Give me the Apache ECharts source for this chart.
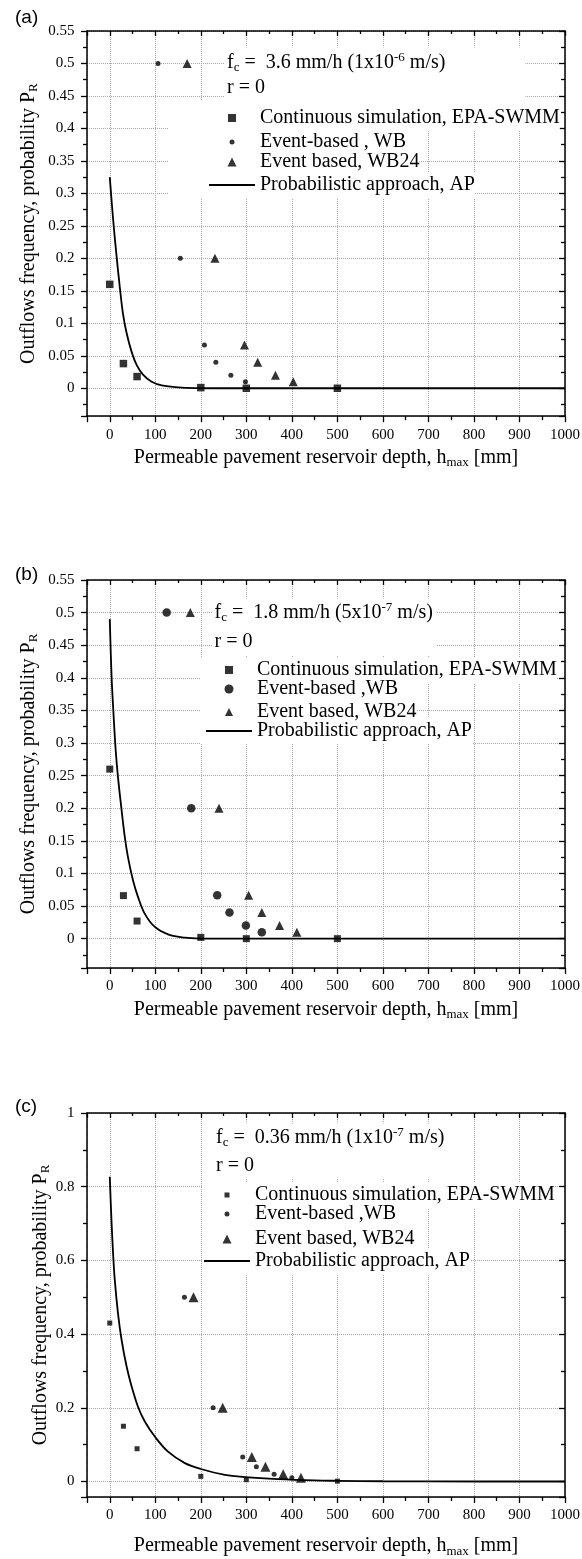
<!DOCTYPE html>
<html>
<head>
<meta charset="utf-8">
<script src="https://cdn.jsdelivr.net/npm/echarts@6/dist/echarts.min.js"></script>
<style>html,body{margin:0;padding:0;background:#fff}#c{width:582px;height:1559px}</style>
</head>
<body>
<div id="c"></div>
<script>
// ---------------- data ----------------
const panelLabels = ['(a)', '(b)', '(c)'];
const fcValues = ['3.6', '1.8', '0.36'];
const fcSI = [['1x10', '-6'], ['5x10', '-7'], ['1x10', '-7']];
const nameSWMM = 'Continuous simulation, EPA-SWMM';
const nameWB = ['Event-based , WB', 'Event-based ,WB', 'Event-based ,WB'];
const nameWB24 = 'Event based, WB24';
const nameAP = 'Probabilistic approach, AP';

// panel (a)
const A_SWMM = [[0,0.16],[30,0.038],[60,0.018],[200,0.001],[300,0],[500,0]];
const A_WB   = [[106,0.5],[155,0.2],[208,0.0667],[233,0.04],[266,0.02],[298,0.01]];
const A_WB24 = [[170,0.5],[231,0.2],[296,0.0667],[325,0.04],[364,0.02],[403,0.01]];
const A_AP   = [[0,0.325],[7.5,0.259],[15,0.203],[22,0.156],[29,0.115],[37,0.085],[48,0.056],[59,0.036],[73,0.021],[92,0.010],[114,0.0046],[150,0.0015],[194,0.0003],[250,0],[1000,0]];

// panel (b)
const B_SWMM = [[0,0.26],[30,0.066],[60,0.027],[200,0.002],[300,0],[500,0]];
const B_WB   = [[125,0.5],[179,0.2],[236,0.0667],[263,0.04],[299,0.02],[334,0.01]];
const B_WB24 = [[177,0.5],[240,0.2],[305,0.0667],[334,0.04],[373,0.02],[411,0.01]];
const B_AP   = [[0,0.49],[4,0.402],[9,0.335],[13,0.289],[18,0.248],[26,0.197],[33,0.156],[40,0.125],[51,0.0895],[62,0.064],[77,0.038],[99,0.018],[128,0.0066],[165,0.0015],[201,0.0002],[250,0],[1000,0]];

// panel (c)
const C_SWMM = [[0,0.43],[30,0.15],[60,0.089],[200,0.014],[300,0.005],[500,0.001]];
const C_WB   = [[164,0.5],[227,0.2],[292,0.0667],[322,0.04],[361,0.02],[400,0.01]];
const C_WB24 = [[184,0.5],[248,0.2],[312,0.0667],[342,0.04],[381,0.02],[420,0.01]];
const C_AP   = [[0,0.827],[3.7,0.71],[7.3,0.619],[11,0.547],[18,0.457],[26,0.384],[37,0.312],[48,0.258],[62,0.203],[77,0.163],[99,0.122],[128,0.081],[165,0.05],[200,0.034],[253,0.018],[297,0.012],[370,0.0065],[450,0.003],[500,0.002],[600,0.0007],[700,0.0002],[1000,0]];

const dataSWMM = [A_SWMM, B_SWMM, C_SWMM];
const dataWB = [A_WB, B_WB, C_WB];
const dataWB24 = [A_WB24, B_WB24, C_WB24];
const dataAP = [A_AP, B_AP, C_AP];

// ---------------- layout / style ----------------
const SERIF = "'Liberation Serif','Times New Roman',serif";
const SANS = "'Liberation Sans',Arial,sans-serif";
const BLACK = '#000';

const panels = [
  {top:31, height:385.2, ymin:-0.043, ymax:0.55, ysplit:12, yGap:47.5, xGap:30.6, lblTop:8,
   ann:{left:225, top:46.5, lh:25, pad:[4,80,4,2]},
   leg:{boxLeft:169, lineLeft:209, rows:[118,142,162,185], sizes:[8,5,9], padTop:[8,3,3,3]},
   sym:{sq:7.5, wb:5, tri:9}},
  {top:580, height:388, ymin:-0.045, ymax:0.55, ysplit:12, yGap:47.5, xGap:30.5, lblTop:565,
   ann:{left:212.5, top:595.5, lh:29, pad:[3,4,3,2]},
   leg:{boxLeft:200, lineLeft:206, rows:[670,689,712,731], sizes:[8,9,8], padTop:[3,3,3,3]},
   sym:{sq:7, wb:8.5, tri:9}},
  {top:1113, height:384, ymin:-0.042, ymax:1, ysplit:5, yGap:35.5, xGap:38.2, lblTop:1097,
   ann:{left:214, top:1121, lh:28, pad:[3,4,3,2]},
   leg:{boxLeft:202, lineLeft:204, rows:[1195,1214,1239,1261], sizes:[5,5,9], padTop:[3,3,3,3]},
   sym:{sq:5, wb:5, tri:10}}
];
const LINE_ICON_W = 46;

const rich = {
  n: {fontFamily: SERIF, fontSize: 20, color: BLACK, lineHeight: 22},
  s: {fontFamily: SERIF, fontSize: 13, color: BLACK, lineHeight: 13, padding: [10,0,0,0]},
  p: {fontFamily: SERIF, fontSize: 13, color: BLACK, lineHeight: 13, padding: [0,0,10,0]}
};
function richWith(lh) {
  return {n: Object.assign({}, rich.n, {lineHeight: lh}), s: rich.s, p: rich.p};
}

const axisLine = {show: true, onZero: false, lineStyle: {color: BLACK, width: 1.5}};
const tickStyle = {color: BLACK, width: 1.3};
const splitLine = {show: true, lineStyle: {color: '#a8a8a8', type: 'dotted', width: 1}};
const labelStyle = {fontFamily: SERIF, fontSize: 15, color: BLACK};
const plainNum = v => String(Math.round(v * 10000) / 10000);

const grid = [], xAxis = [], yAxis = [], series = [], legend = [], title = [];

panels.forEach((P, i) => {
  grid.push({left: 87, right: 17, top: P.top, height: P.height, containLabel: false, outerBoundsMode: 'none'});
  const xBase = {type: 'value', gridIndex: i, min: -50, max: 1000, splitNumber: 10, axisLine: axisLine};
  xAxis.push(Object.assign({}, xBase, {
    position: 'bottom',
    axisTick: {show: true, inside: false, length: 6, lineStyle: tickStyle},
    minorTick: {show: true, splitNumber: 2, length: 4, lineStyle: tickStyle},
    axisLabel: Object.assign({show: true, margin: 11, showMinLabel: false, formatter: plainNum}, labelStyle),
    splitLine: splitLine,
    name: '{n|Permeable pavement reservoir depth, h}{s|max}{n| [mm]}',
    nameLocation: 'middle', nameGap: P.xGap, nameMoveOverlap: false,
    nameTextStyle: {rich: rich}
  }));
  xAxis.push(Object.assign({}, xBase, {
    position: 'top',
    axisTick: {show: true, inside: true, length: 5, lineStyle: tickStyle},
    minorTick: {show: true, splitNumber: 2, length: 3, lineStyle: tickStyle},
    axisLabel: {show: false}, splitLine: {show: false}
  }));
  const yBase = {type: 'value', gridIndex: i, min: P.ymin, max: P.ymax, splitNumber: P.ysplit, axisLine: axisLine};
  yAxis.push(Object.assign({}, yBase, {
    position: 'left',
    axisTick: {show: true, inside: false, length: 6, lineStyle: tickStyle},
    minorTick: {show: true, splitNumber: 2, length: 4, lineStyle: tickStyle},
    axisLabel: Object.assign({show: true, margin: 12.5, showMinLabel: false, formatter: plainNum}, labelStyle),
    splitLine: splitLine,
    name: '{n|Outflows frequency, probability P}{s|R}',
    nameLocation: 'middle', nameRotate: 90, nameGap: P.yGap, nameMoveOverlap: false,
    nameTextStyle: {rich: rich}
  }));
  yAxis.push(Object.assign({}, yBase, {
    position: 'right',
    axisTick: {show: true, inside: true, length: 6, lineStyle: tickStyle},
    minorTick: {show: true, splitNumber: 2, length: 4, lineStyle: tickStyle},
    axisLabel: {show: false}, splitLine: {show: false}
  }));

  const common = {xAxisIndex: 2*i, yAxisIndex: 2*i, silent: true, itemStyle: {color: BLACK}};
  series.push(Object.assign({type: 'line', name: nameAP, data: dataAP[i], symbol: 'none', showSymbol: false,
    smooth: 0.35, lineStyle: {color: BLACK, width: 1.8}, z: 2}, common));
  series.push(Object.assign({type: 'scatter', name: nameSWMM, data: dataSWMM[i], symbol: 'rect', symbolSize: P.sym.sq, z: 3}, common));
  series.push(Object.assign({type: 'scatter', name: nameWB[i], data: dataWB[i], symbol: 'circle', symbolSize: P.sym.wb, z: 3}, common));
  series.push(Object.assign({type: 'scatter', name: nameWB24, data: dataWB24[i], symbol: 'triangle', symbolSize: P.sym.tri, z: 3}, common));

  // legend rows: three marker rows + one line row
  const markerNames = [nameSWMM, nameWB[i], nameWB24];
  const icons = ['rect', 'circle', 'triangle'];
  const textX = P.leg.lineLeft + LINE_ICON_W + 5;
  markerNames.forEach((nm, k) => {
    const s = P.leg.sizes[k];
    const pt = P.leg.padTop[k];
    const contentLeft = P.leg.lineLeft + LINE_ICON_W / 2 - s / 2;
    legend.push({
      data: [{name: nm, icon: icons[k]}], orient: 'horizontal',
      left: P.leg.boxLeft, top: P.leg.rows[k] - 10 - pt,
      itemWidth: s, itemHeight: s, symbolKeepAspect: true,
      padding: [pt, 0, 3, contentLeft - P.leg.boxLeft],
      backgroundColor: '#fff', selectedMode: false, z: 4,
      itemStyle: {color: BLACK, borderWidth: 0},
      textStyle: {fontFamily: SERIF, fontSize: 20, color: BLACK,
                  padding: [0, 0, 0, textX - (contentLeft + s + 5)]}
    });
  });
  const ptL = P.leg.padTop[3];
  legend.push({
    data: [{name: nameAP, icon: 'rect'}], orient: 'horizontal',
    left: P.leg.boxLeft, top: P.leg.rows[3] - 10 - ptL,
    itemWidth: LINE_ICON_W, itemHeight: 2, symbolKeepAspect: false,
    padding: [ptL, 0, 3, P.leg.lineLeft - P.leg.boxLeft],
    backgroundColor: '#fff', selectedMode: false, z: 4,
    itemStyle: {color: BLACK, borderWidth: 0},
    textStyle: {fontFamily: SERIF, fontSize: 20, color: BLACK}
  });

  title.push({
    text: '{n|f}{s|c}{n| =  ' + fcValues[i] + ' mm/h (' + fcSI[i][0] + '}{p|' + fcSI[i][1] + '}{n| m/s)}\n{n|r = 0}',
    left: P.ann.left, top: P.ann.top, padding: P.ann.pad, backgroundColor: '#fff', z: 5,
    textStyle: {fontFamily: SERIF, fontSize: 20, fontWeight: 'normal', color: BLACK, rich: richWith(P.ann.lh)}
  });
  title.push({
    text: panelLabels[i], left: 15, top: P.lblTop, padding: 0,
    textStyle: {fontFamily: SANS, fontSize: 19, fontWeight: 'normal', color: BLACK}
  });
});

const chart = echarts.init(document.getElementById('c'), null, {renderer: 'canvas', width: 582, height: 1559});
chart.setOption({
  animation: false,
  backgroundColor: '#fff',
  grid, xAxis, yAxis, series, legend, title
});
</script>
</body>
</html>
